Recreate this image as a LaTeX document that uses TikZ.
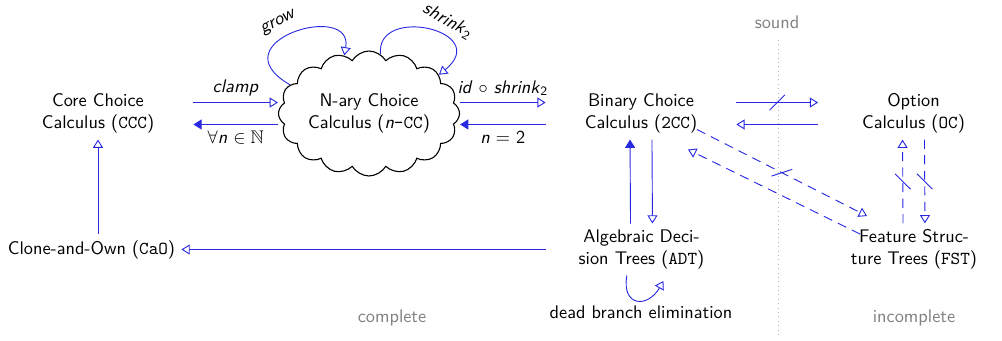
\documentclass[tikz,border=0pt]{standalone}
\usepackage{amssymb}
\usetikzlibrary{arrows.meta,shapes.symbols,decorations.markings}
\renewcommand{\familydefault}{\sfdefault}
\definecolor{relblue}{RGB}{40,40,225}

\tikzset{
  lang/.style={align=center, minimum width=104pt, inner sep=3.3pt},
  cloudy/.style={cloud, cloud puffs=16, cloud puff arc=120, aspect=1.6,
    draw=black, fill=white, line width=0.6pt, align=center,
    minimum width=96pt, minimum height=60pt, inner sep=0pt},
  conv/.style={draw=relblue, line width=0.5pt,
    -{Triangle[open,length=4.5pt,width=5.5pt]}},
  full/.style={draw=relblue, line width=0.5pt,
    -{Triangle[length=4.5pt,width=5.5pt]}},
  partial/.style={dash pattern=on 5pt off 3.5pt},
  negated/.style={postaction={decorate}, decoration={markings,
    mark=at position 0.5 with {\draw[solid, -] (-4.2pt,-4.2pt) -- (4.2pt,4.2pt);}}},
  region/.style={text=gray}
}

\begin{document}
\begin{tikzpicture}[x=5.47pt, y=5.47pt]
  \useasboundingbox (0,0) rectangle (100.2,34);

  % languages
  \node[lang] (ccc) at (9.8,22.65) {Core Choice\\Calculus (\texttt{CCC})};
  \node[cloudy] (ncc) at (36.9,22.65) {N-ary Choice\\Calculus (\textit{n}\texttt{-CC})};
  \node[lang] (bcc) at (64.1,22.65) {Binary Choice\\Calculus (\texttt{2CC})};
  \node[lang] (oc) at (91.35,22.65) {Option\\Calculus (\texttt{OC})};
  \node[lang, minimum width=0pt] (cao) at (9.15,9.05) {Clone-and-Own (\texttt{CaO})};
  \node[lang] (adt) at (64.15,9.05) {Algebraic Deci-\\sion Trees (\texttt{ADT})};
  \node[lang] (fst) at (91.4,9.05) {Feature Struc-\\ture Trees (\texttt{FST})};
  \node (dbe) at (64.1,2.8) {dead branch elimination};

  % sound / complete
  \node[region] (sound) at (77.7,31.8) {sound};
  \node[region] (complete) at (39.2,2.2) {complete};
  \node[region] (incomplete) at (91.4,2.2) {incomplete};
  \draw[gray!60, dotted] (77.8,30) -- (77.8,0.3);

  % choice calculi
  \draw[conv] ([yshift=6pt]ccc.east) -- node[above] {\textit{clamp}} ([yshift=6pt]ncc.west);
  \draw[full] ([yshift=-6pt]ncc.west) -- node[below] {$\forall$\textit{n} $\in \mathbb{N}$} ([yshift=-6pt]ccc.east);
  \draw[conv] ([yshift=6pt]ncc.east) -- node[above] {\textit{id} $\circ$ \textit{shrink}\textsubscript{2}} ([yshift=6pt]bcc.west);
  \draw[full] ([yshift=-6pt]bcc.west) -- node[below] {\textit{n} $=$ 2} ([yshift=-6pt]ncc.east);
  \draw[conv] (ncc.160) .. controls +(150:8.6) and +(80:5.6) .. node[pos=0.45, sloped, above=1.5pt] {\textit{grow}} (ncc.113);
  \draw[conv] (ncc.79) .. controls +(96:5) and +(39:7) .. node[pos=0.6, sloped, above=0.5pt] {\textit{shrink}\textsubscript{2}} (ncc.29);
  \draw[conv, negated] ([yshift=6pt]bcc.east) -- ([yshift=6pt]oc.west);
  \draw[conv] ([yshift=-6pt]oc.west) -- ([yshift=-6pt]bcc.east);

  % trees
  \draw[conv] ([xshift=6pt]bcc.south) -- ([xshift=6pt]adt.north);
  \draw[full] ([xshift=-6pt]adt.north) -- ([xshift=-6pt]bcc.south);
  \draw[conv] (adt.west) -- (cao.east);
  \draw[conv] (cao.north -| ccc.south) -- (ccc.south);
  \draw[conv] ([xshift=-8pt]adt.south) to[out=-100, in=-120, looseness=2.2] ([xshift=12pt, yshift=-3pt]adt.south);
  \draw[conv, partial, negated] ([shift={(5.6,-1.6)}]bcc.center) -- ([shift={(-4.7,3.35)}]fst.center);
  \draw[conv, partial] ([shift={(-5.4,1.55)}]fst.center) -- ([shift={(4.7,-3.6)}]bcc.center);
  \draw[conv, partial, negated] ([xshift=6pt]oc.south) -- ([xshift=6pt]fst.north);
  \draw[conv, partial, negated] ([xshift=-6pt]fst.north) -- ([xshift=-6pt]oc.south);
\end{tikzpicture}
\end{document}
